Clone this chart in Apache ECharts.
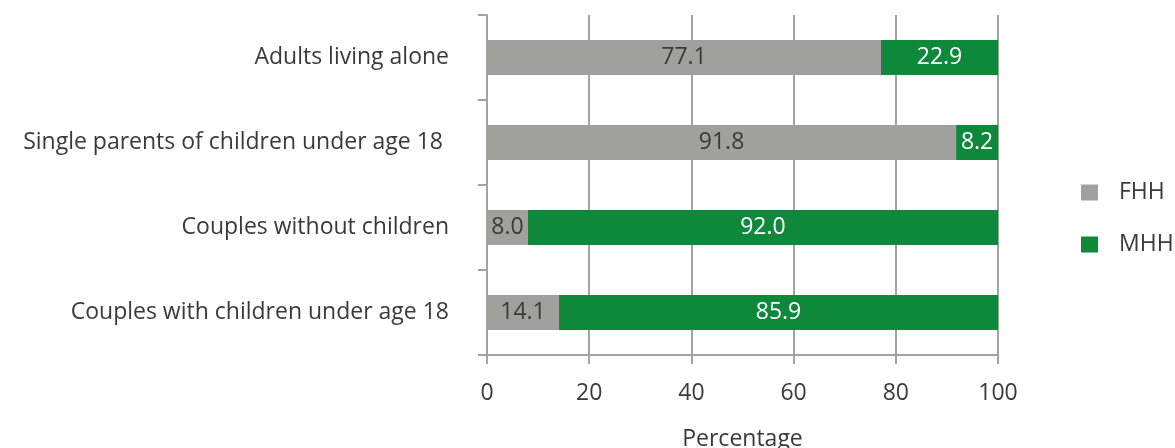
<!DOCTYPE html>
<html>
<head>
<meta charset="utf-8">
<script src="https://cdn.jsdelivr.net/npm/echarts@6/dist/echarts.min.js"></script>
<style>
  html, body { margin: 0; padding: 0; background: #fff; }
  #chart { width: 1175px; height: 448px; }
</style>
</head>
<body>
<div id="chart"></div>
<script>
// Household types, top to bottom
const categories = [
  'Adults living alone',
  'Single parents of children under age 18 ',
  'Couples without children',
  'Couples with children under age 18'
];
const fhhValues = [77.1, 91.8, 8.0, 14.1];
const mhhValues = [22.9, 8.2, 92.0, 85.9];
const xTicks = [0, 20, 40, 60, 80, 100];

const FONT = '"Open Sans", sans-serif';
const FS = 23;
const TEXT = '#3a3a3a';
const AXIS = '#a3a3a3';

const chart = echarts.init(document.getElementById('chart'));
chart.setOption({
  animation: false,
  textStyle: { fontFamily: FONT },
  grid: {
    left: 487, right: 177, top: 15, bottom: 93,
    containLabel: false,
    outerBoundsMode: 'none'
  },
  legend: {
    orient: 'vertical',
    left: 1076,
    top: 176,
    itemWidth: 17,
    itemHeight: 16,
    itemGap: 29,
    icon: 'rect',
    textStyle: {
      fontFamily: FONT, fontSize: FS, color: TEXT,
      lineHeight: 16, padding: [0, 0, 0, 16]
    },
    data: ['FHH', 'MHH']
  },
  xAxis: {
    type: 'value',
    min: xTicks[0],
    max: xTicks[xTicks.length - 1],
    interval: 20,
    name: 'Percentage',
    nameLocation: 'middle',
    nameGap: 73,
    nameTextStyle: { fontFamily: FONT, fontSize: FS, color: TEXT },
    axisLine: { show: true, lineStyle: { color: AXIS, width: 2 } },
    axisTick: { show: true, length: 9, lineStyle: { color: AXIS, width: 2 } },
    axisLabel: { fontFamily: FONT, fontSize: FS, color: TEXT, margin: 27 },
    splitLine: { show: true, lineStyle: { color: AXIS, width: 2 } }
  },
  yAxis: {
    type: 'category',
    inverse: true,
    data: categories,
    axisLine: { show: true, lineStyle: { color: AXIS, width: 2 } },
    axisTick: { show: true, length: 9, lineStyle: { color: AXIS, width: 2 } },
    axisLabel: { fontFamily: FONT, fontSize: FS, color: TEXT, margin: 38 },
    splitLine: { show: false }
  },
  series: [
    {
      name: 'FHH',
      type: 'bar',
      stack: 'total',
      barWidth: 35,
      itemStyle: { color: '#a0a09f' },
      label: {
        show: true,
        position: 'inside',
        fontFamily: FONT,
        fontSize: FS,
        color: TEXT,
        formatter: p => p.value.toFixed(1)
      },
      data: fhhValues
    },
    {
      name: 'MHH',
      type: 'bar',
      stack: 'total',
      barWidth: 35,
      itemStyle: { color: '#0e883a' },
      label: {
        show: true,
        position: 'inside',
        fontFamily: FONT,
        fontSize: FS,
        color: '#ffffff',
        formatter: p => p.value.toFixed(1)
      },
      data: mhhValues
    }
  ]
});
</script>
</body>
</html>
